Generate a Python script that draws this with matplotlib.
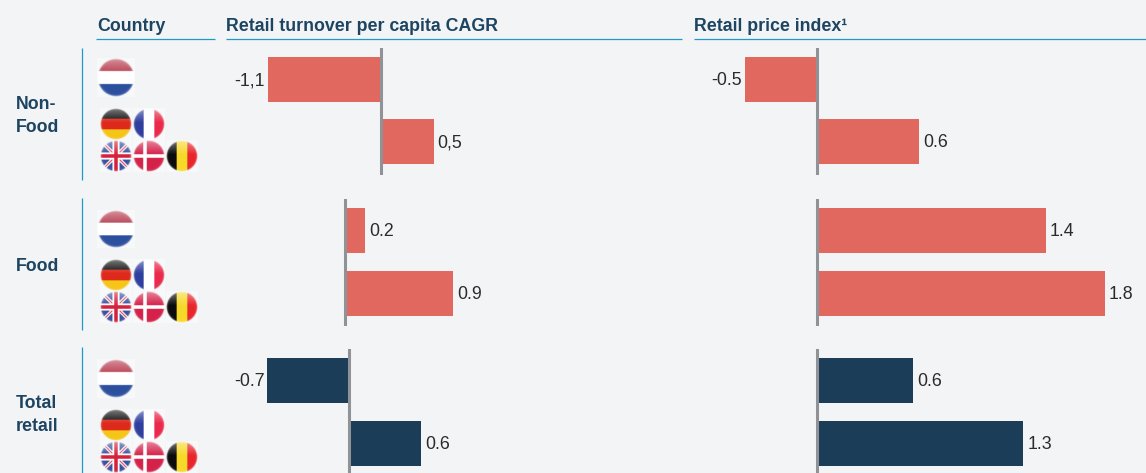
import numpy as np
import matplotlib
matplotlib.use('Agg')
import matplotlib.pyplot as plt

# data
groups = ['Non-\nFood', 'Food', 'Total\nretail']
turnover = [[-1.1, 0.51], [0.17, 0.9], [-0.68, 0.6]]
turnover_labels = [['-1,1', '0,5'], ['0.2', '0.9'], ['-0.7', '0.6']]
price = [[-0.45, 0.64], [1.43, 1.8], [0.6, 1.29]]
price_labels = [['-0.5', '0.6'], ['1.4', '1.8'], ['0.6', '1.3']]
headers = ['Country', 'Retail turnover per capita CAGR', 'Retail price index\u00b9']

# layout in pixels
W, H = 1146, 473
BG = '#f2f4f6'
RED = '#e0685f'
DARK = '#1b3d57'
NAVY = '#1d4460'
RULE = '#1f9ac6'
GREY = '#8f9296'
row_tops = [48, 199, 349]
row_colors = [RED, RED, DARK]
bar_rows = [[31.5, 93.5], [31.5, 94.5], [31.5, 94.5]]
left_base = [381, 345, 349]
left_scale = [103, 120, 120]
right_base = [817, 817, 817]
right_scale = [160, 160, 160]

plt.rcParams['font.family'] = ['Liberation Sans', 'DejaVu Sans']
fig = plt.figure(figsize=(W / 100, H / 100), dpi=100, facecolor=BG)

# overlay in pixel coordinates for headers, rules and flags
bg = fig.add_axes([0, 0, 1, 1])
bg.set_xlim(0, W)
bg.set_ylim(H, 0)
bg.axis('off')


def flag_image(kind, n=72):
    yy, xx = np.mgrid[0:n, 0:n]
    u = (xx + 0.5) / n * 2 - 1
    v = (yy + 0.5) / n * 2 - 1
    img = np.ones((n, n, 3))
    def col(c):
        return np.array(matplotlib.colors.to_rgb(c))
    if kind == 'nl':
        img[v < -0.33] = col('#b5364a')
        img[v > 0.33] = col('#2c4f9e')
    elif kind == 'de':
        img[v < -0.33] = col('#111111')
        img[(v >= -0.33) & (v < 0.33)] = col('#dd2a1c')
        img[v >= 0.33] = col('#f5c518')
    elif kind == 'fr':
        img[u < -0.33] = col('#2f3f9e')
        img[u > 0.33] = col('#ea2a4c')
    elif kind == 'be':
        img[u < -0.33] = col('#0c0c0c')
        img[(u >= -0.33) & (u < 0.33)] = col('#f7d92a')
        img[u >= 0.33] = col('#e8262c')
    elif kind == 'dk':
        img[:] = col('#d5224a')
        img[(np.abs(v) < 0.12) | (np.abs(u + 0.25) < 0.12)] = 1
    elif kind == 'uk':
        img[:] = col('#3a52a0')
        d = (np.abs(np.abs(u) - np.abs(v)) < 0.14)
        img[d] = 1
        d2 = (np.abs(np.abs(u) - np.abs(v)) < 0.05)
        img[d2] = col('#d5223c')
        img[(np.abs(u) < 0.22) | (np.abs(v) < 0.22)] = 1
        img[(np.abs(u) < 0.12) | (np.abs(v) < 0.12)] = col('#d5223c')
    # gloss on the top, soft rim
    gloss = np.clip((-0.1 - v) / 1.0, 0, 1) * 0.5
    img = img * (1 - gloss[..., None]) + gloss[..., None]
    r = np.sqrt(u ** 2 + v ** 2)
    rim = np.clip((r - 0.82) / 0.2, 0, 1) * 0.25
    img = img * (1 - rim[..., None]) + rim[..., None]
    alpha = np.where(r <= 0.92, 1.0, np.where(r <= 1.0, (1.0 - r) / 0.08, 0.0))
    rgba = np.dstack([img, alpha])
    # pale square left round the circle in the original
    outside = alpha < 1
    rgba[outside, :3] = (rgba[outside, :3] * alpha[outside, None]
                         + (1 - alpha[outside, None]))
    rgba[outside, 3] = alpha[outside] + (1 - alpha[outside]) * 0.45
    return rgba


def draw_flag(kind, cx, cy, r):
    bg.imshow(flag_image(kind), extent=(cx - r, cx + r, cy + r, cy - r),
              interpolation='bilinear', zorder=3, aspect='auto')


# headers
for x0, x1, text in zip([96, 226, 694], [215, 682, W], headers):
    bg.plot([x0, x1], [39.5, 39.5], color=RULE, lw=0.9, solid_capstyle='butt')
    bg.text(x0 + (1 if x0 == 96 else 0), 31, text, color=NAVY, fontsize=12.8, fontweight='bold',
            va='baseline', ha='left')

# row labels, blue lines, flags
blue_spans = [(48, 180), (198, 330), (347, H)]
label_y = [116, 266, 415]
for i, name in enumerate(groups):
    top = row_tops[i]
    bg.plot([82, 82], blue_spans[i], color=RULE, lw=0.9, solid_capstyle='butt')
    bg.text(16, label_y[i], name, color=NAVY, fontsize=12.8, fontweight='bold',
            va='center', ha='left', linespacing=1.4)
    draw_flag('nl', 116, top + 30, 19)
    draw_flag('de', 116, top + 76, 16)
    draw_flag('fr', 149, top + 76, 16)
    draw_flag('uk', 116, top + 108, 16)
    draw_flag('dk', 149, top + 108, 16)
    draw_flag('be', 182, top + 108, 16)
bg.set_xlim(0, W)
bg.set_ylim(H, 0)


def bar_panel(values, labels, bar_y, base, scale, top, color, x0, x1):
    # axes spans x0..x1 px and the row height, data scaled to px per unit
    y_bottom = min(top + 127, H)
    ax = fig.add_axes([x0 / W, 1 - y_bottom / H, (x1 - x0) / W, (y_bottom - top) / H])
    ax.patch.set_alpha(0)
    ax.set_xlim((x0 - base) / scale, (x1 - base) / scale)
    ax.set_ylim(y_bottom - top, 0)
    ax.barh(bar_y, values, height=45, color=color, zorder=2)
    ax.axvline(0, color=GREY, lw=2.2, zorder=3)
    for y, v, s in zip(bar_y, values, labels):
        off = 4 if v > 0 else -3
        ax.annotate(s, (v, y + 1), xytext=(off, 0), textcoords='offset pixels',
                    ha='left' if v > 0 else 'right', va='center',
                    fontsize=12.8, color='#2b2b2b')
    ax.axis('off')


for i in range(3):
    bar_panel(turnover[i], turnover_labels[i], bar_rows[i], left_base[i], left_scale[i],
              row_tops[i], row_colors[i], 226, 682)
    bar_panel(price[i], price_labels[i], bar_rows[i], right_base[i], right_scale[i],
              row_tops[i], row_colors[i], 694, W)

fig.savefig('out.png', dpi=100, facecolor=BG)
